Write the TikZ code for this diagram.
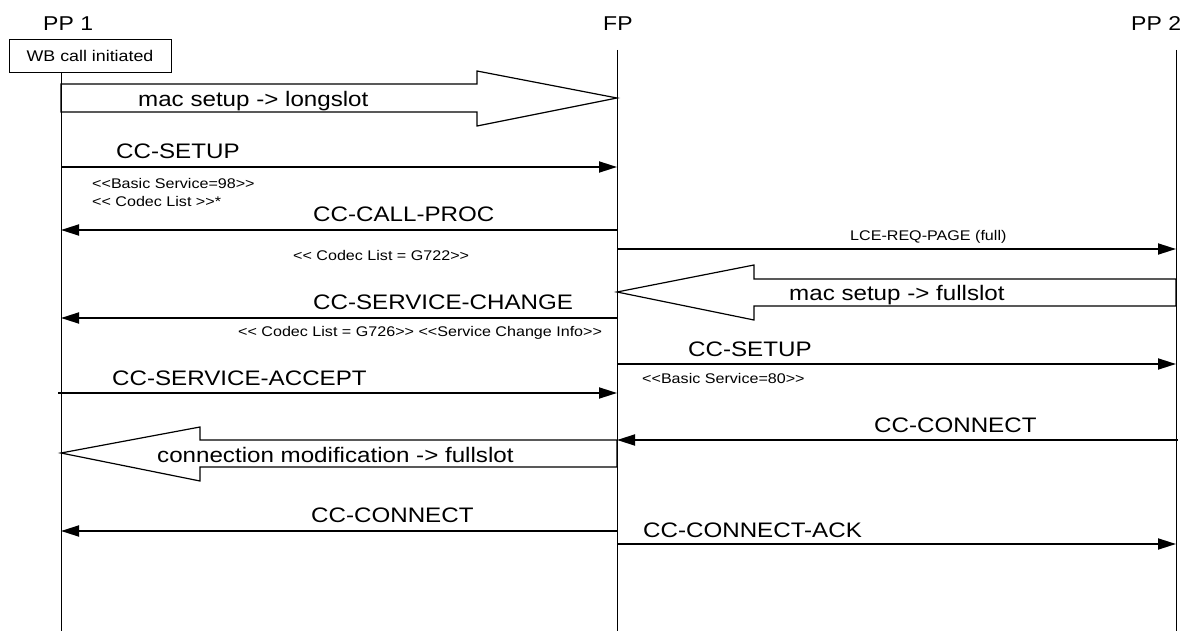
\documentclass[tikz,border=0pt]{standalone}
\usepackage{fontspec}
\setmainfont{Liberation Sans}[FakeStretch=1.15, Ligatures=TeXOff]
\usetikzlibrary{arrows.meta}
\begin{document}
\begin{tikzpicture}[x=1pt,y=-1pt,
  lifeline/.style={line width=0.9pt},
  msg/.style={line width=1.8pt, -{Triangle[length=18pt,width=11pt]}},
  bigarrow/.style={line width=1.2pt, line join=miter},
  lbl/.style={anchor=base west, inner sep=0pt, font=\fontsize{21}{25}\selectfont},
  sml/.style={anchor=base west, inner sep=0pt, font=\fontsize{14}{17}\selectfont},
  head/.style={anchor=base west, inner sep=0pt, font=\fontsize{20}{24}\selectfont},
  wbbox/.style={draw, line width=0.9pt, minimum width=162pt, minimum height=33pt, inner sep=0pt, font=\fontsize{15.5}{18}\selectfont}
]
\useasboundingbox (0,0) rectangle (1200,631);

% headers
\node[head] (hPP1) at (43,31) {PP 1};
\node[head] (hFP) at (603,31) {FP};
\node[head] (hPP2) at (1131,31) {PP 2};
\node[wbbox] (wb) at (90,55.5) {WB call initiated};

% lifelines
\coordinate (L1t) at (61,72);   \coordinate (L1b) at (61,631);
\coordinate (Ft)  at (617,50);  \coordinate (Fb)  at (617,631);
\coordinate (L2t) at (1176,50); \coordinate (L2b) at (1176,631);
\draw[lifeline] (wb.south -| L1t) -- (L1b);
\draw[lifeline] (Ft) -- (Fb);
\draw[lifeline] (L2t) -- (L2b);

% big arrow 1: mac setup -> longslot
\draw[bigarrow] (61,84) -- (477,84) -- (477,71) -- (617,98) -- (477,126) -- (477,112) -- (61,112) -- cycle;
\node[lbl] (tMacLong) at (138,107) {mac setup -> longslot};

% CC-SETUP PP1 -> FP
\coordinate (m1a) at (61,167); \coordinate (m1b) at (617,167);
\draw[msg] (m1a) -- (m1b);
\node[lbl] (tSetup1) at (116,159) {CC-SETUP};
\node[sml] (tBS98) at (92,189) {<<Basic Service=98>>};
\node[sml] (tCL) at (92,207) {<< Codec List >>*};

% CC-CALL-PROC FP -> PP1
\coordinate (m2a) at (617,230); \coordinate (m2b) at (61,230);
\draw[msg] (m2a) -- (m2b);
\node[lbl] (tCallProc) at (313,222) {CC-CALL-PROC};
\node[sml] (tG722) at (293,261) {<< Codec List = G722>>};

% LCE-REQ-PAGE FP -> PP2
\coordinate (m3a) at (617,249); \coordinate (m3b) at (1176,249);
\draw[msg] (m3a) -- (m3b);
\node[sml] (tLCE) at (850,241) {LCE-REQ-PAGE (full)};

% big arrow 2: mac setup -> fullslot
\draw[bigarrow] (1176,279) -- (754,279) -- (754,265) -- (617,292) -- (754,320) -- (754,306) -- (1176,306) -- cycle;
\node[lbl] (tMacFull) at (789,301) {mac setup -> fullslot};

% CC-SERVICE-CHANGE FP -> PP1
\coordinate (m4a) at (617,318); \coordinate (m4b) at (61,318);
\draw[msg] (m4a) -- (m4b);
\node[lbl] (tSC) at (313,309) {CC-SERVICE-CHANGE};
\node[sml] (tG726) at (238,336) {<< Codec List = G726>> <<Service Change Info>>};

% CC-SETUP FP -> PP2
\coordinate (m5a) at (617,364); \coordinate (m5b) at (1176,364);
\draw[msg] (m5a) -- (m5b);
\node[lbl] (tSetup2) at (688,356) {CC-SETUP};
\node[sml] (tBS80) at (642,383) {<<Basic Service=80>>};

% CC-SERVICE-ACCEPT PP1 -> FP
\coordinate (m6a) at (58,393); \coordinate (m6b) at (617,393);
\draw[msg] (m6a) -- (m6b);
\node[lbl] (tSA) at (112,385) {CC-SERVICE-ACCEPT};

% CC-CONNECT PP2 -> FP
\coordinate (m7a) at (1178,440); \coordinate (m7b) at (617,440);
\draw[msg] (m7a) -- (m7b);
\node[lbl] (tConn2) at (874,432) {CC-CONNECT};

% big arrow 3: connection modification -> fullslot
\draw[bigarrow] (617,440) -- (200,440) -- (200,427) -- (61,453) -- (200,481) -- (200,467) -- (617,467) -- cycle;
\node[lbl] (tMod) at (157,462) {connection modification -> fullslot};

% CC-CONNECT FP -> PP1
\coordinate (m8a) at (617,531); \coordinate (m8b) at (61,531);
\draw[msg] (m8a) -- (m8b);
\node[lbl] (tConn1) at (311,522) {CC-CONNECT};

% CC-CONNECT-ACK FP -> PP2
\coordinate (m9a) at (617,544); \coordinate (m9b) at (1176,544);
\draw[msg] (m9a) -- (m9b);
\node[lbl] (tAck) at (643,537) {CC-CONNECT-ACK};
\end{tikzpicture}
\end{document}
